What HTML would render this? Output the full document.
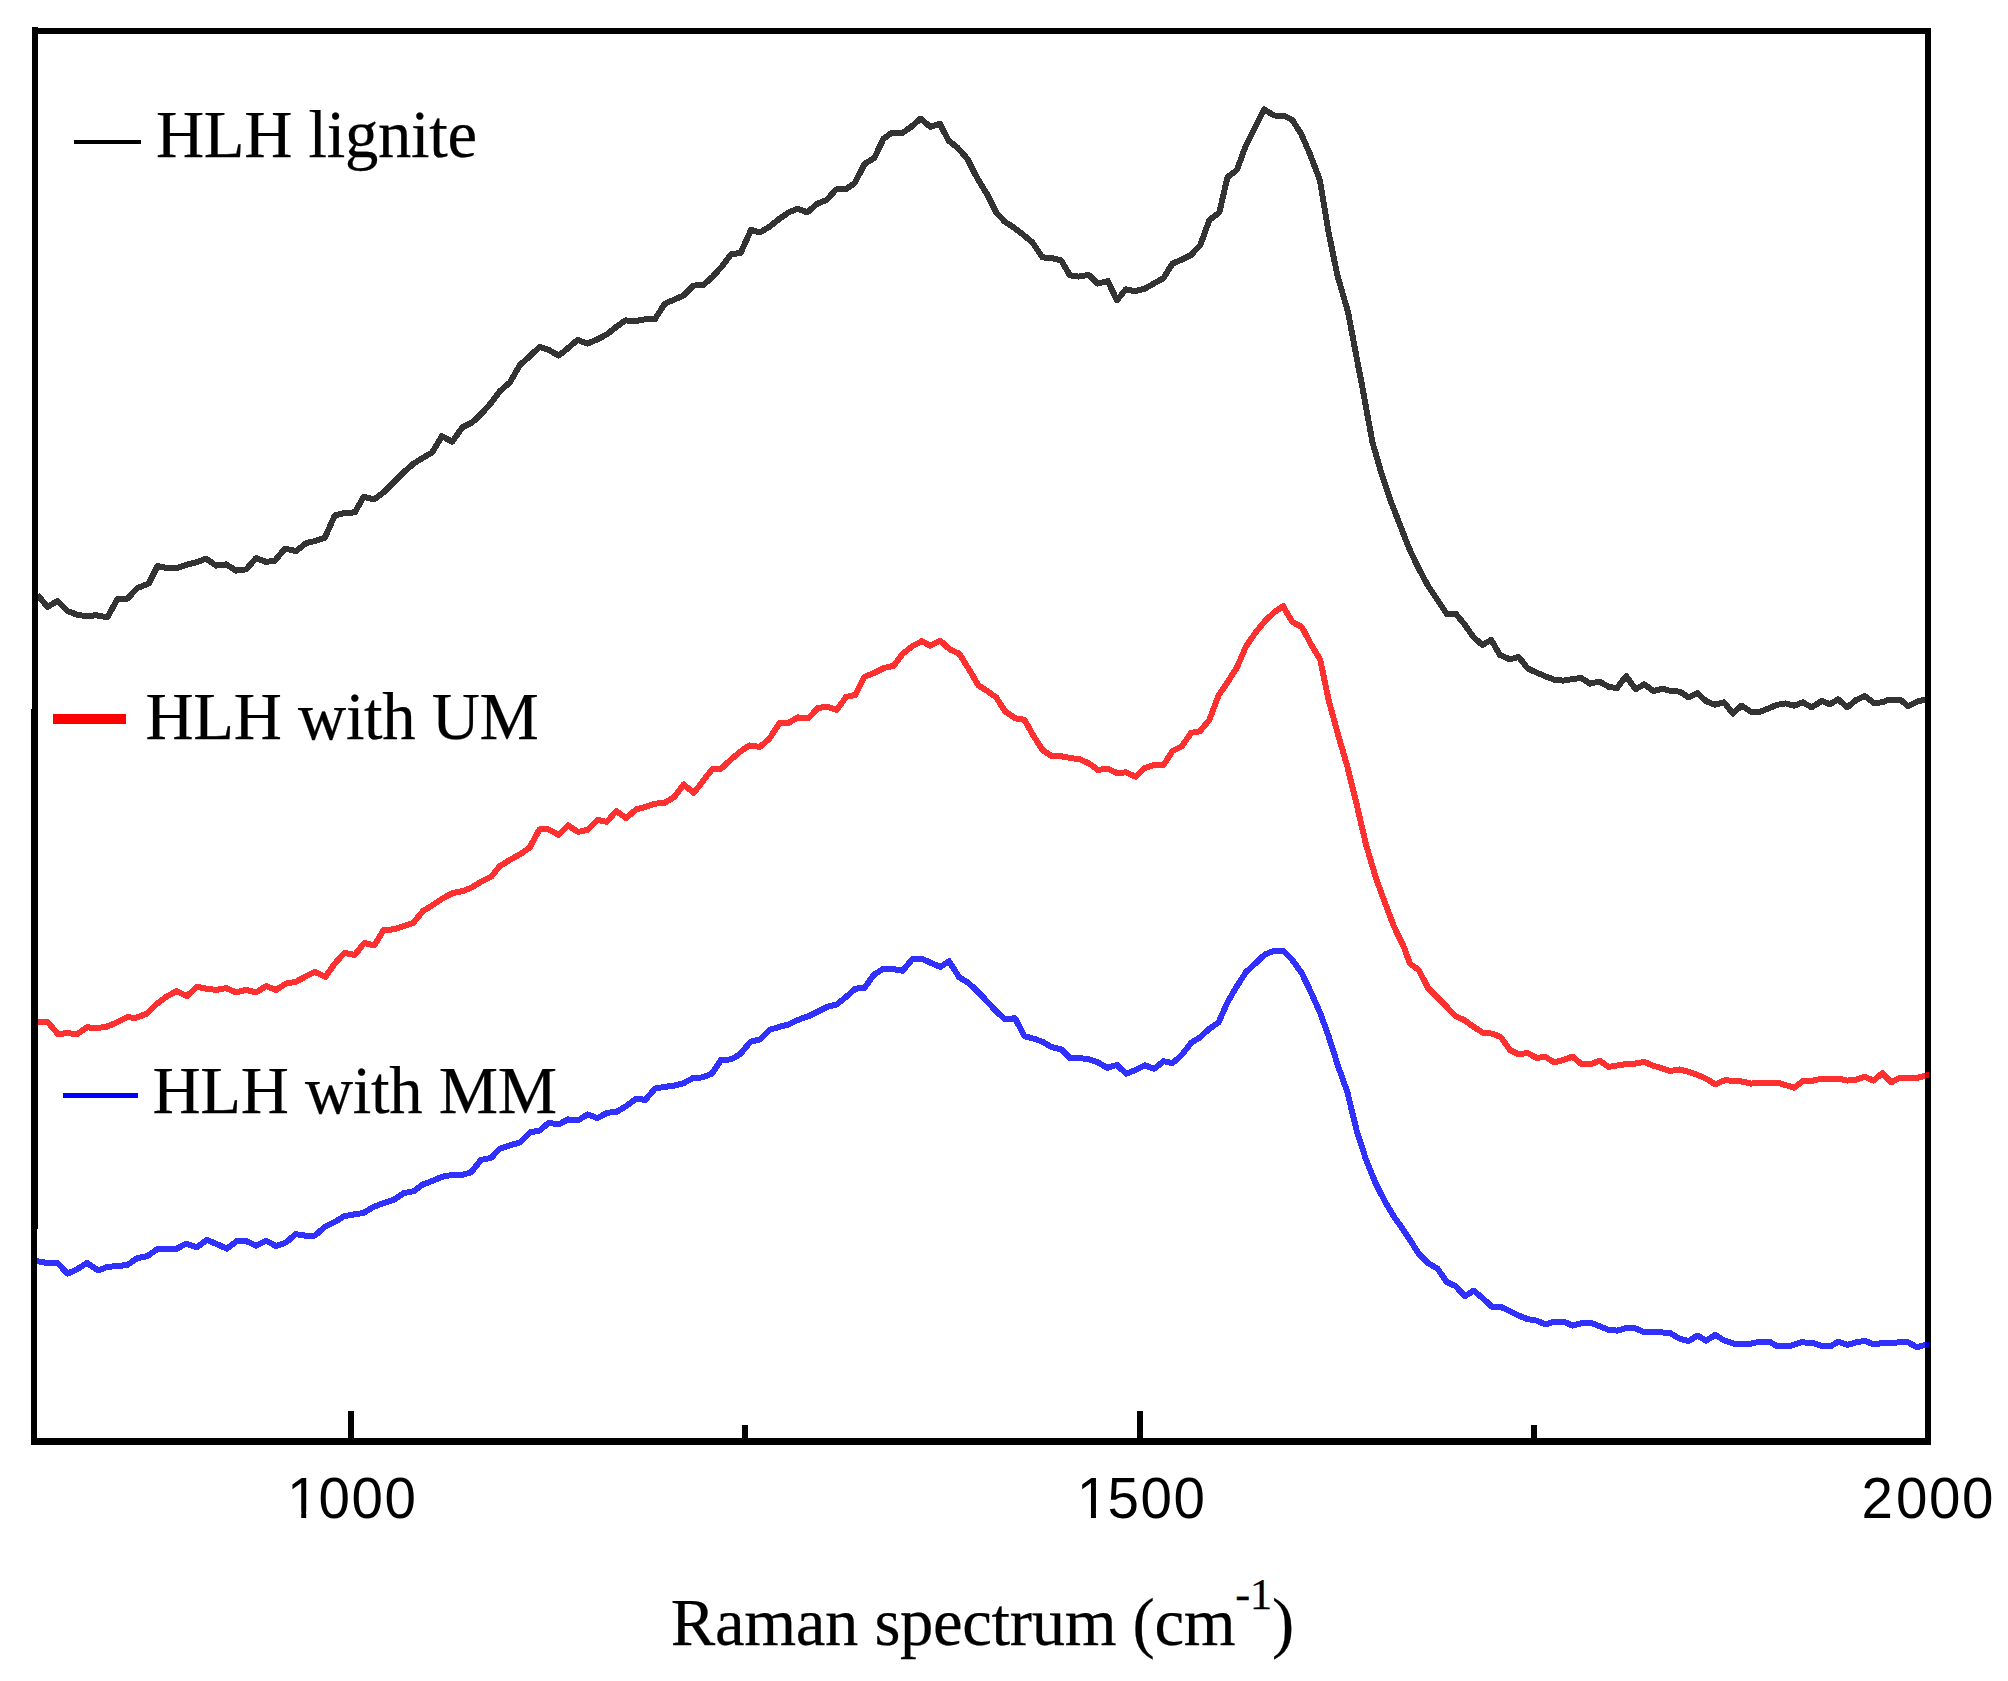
<!DOCTYPE html>
<html lang="en"><head><meta charset="utf-8"><title>Raman spectrum</title>
<style>html,body{margin:0;padding:0;background:#fff}body{width:2008px;height:1681px;overflow:hidden}svg{display:block}.tk{font-family:"Liberation Sans",Arial,sans-serif;font-size:58px;letter-spacing:1.6px;fill:#000}.sr{font-family:"Liberation Serif","Times New Roman",serif;font-size:66.7px;letter-spacing:-0.3px;fill:#000;stroke:#000;stroke-width:0.25px}</style></head><body>
<svg width="2008" height="1681" viewBox="0 0 2008 1681">
<rect x="0" y="0" width="2008" height="1681" fill="#fff"/>
<defs><clipPath id="c"><rect x="35" y="31" width="1894" height="1410"/></clipPath></defs>
<g fill="#000">
<rect x="32" y="28" width="1899" height="6"/>
<rect x="31" y="1438" width="1900" height="7"/>
<rect x="1925" y="28" width="6" height="1417"/>
<rect x="348" y="1411" width="6" height="28"/>
<rect x="1137" y="1411" width="6" height="28"/>
<rect x="742" y="1425" width="6" height="14"/>
<rect x="1531" y="1425" width="6" height="14"/>
</g>
<g clip-path="url(#c)" shape-rendering="crispEdges" fill="none" stroke-linejoin="round" stroke-linecap="butt" stroke-width="6">
<polyline stroke="#000" stroke-opacity="0.8" points="37.5,594.9 47.5,606.8 57.5,601.1 67.5,611.1 77.5,614.8 86.2,616.1 96.2,615.3 107.4,617.3 117.4,599.1 127.4,598.6 137.4,588.1 148.7,583.6 157.4,566.1 166.2,567.9 176.2,568.1 186.2,564.9 196.2,562.4 206.1,558.6 216.1,565.6 226.1,564.4 236.1,570.6 246.1,569.4 256.1,558.1 266.1,561.9 274.9,560.6 284.9,548.6 296.1,551.1 306.1,543.1 314.8,541.1 324.8,537.9 334.8,515.4 344.8,512.9 354.8,512.4 363.6,496.9 374.1,499.4 383.6,492.4 393.6,482.4 403.5,472.4 413.5,463.7 423.5,457.4 432.3,452.4 441.8,436.2 452.3,441.7 462.3,427.4 472.3,422.4 482.3,412.9 491.5,402.4 500,391.1 510,382.3 520,364.8 528.7,357.4 539.5,346.9 548.7,349.9 558.7,355.6 567.5,348.6 577.5,339.9 587.4,343.6 597.4,339.4 607.4,334.1 616.2,326.9 625.4,320.4 634.9,321.1 644.9,319.4 654.9,319.1 664.9,303.6 674.9,299.4 683.6,295.4 693.6,285.6 703.6,284.9 712.4,276.9 721.1,267.4 731.1,254.4 740.6,252.9 751.1,229.9 759.9,232.4 768.6,227.4 778.6,219.4 788.6,212.4 797.8,208.7 807.3,212.4 817.3,203.7 826.8,199.9 836.1,189.4 846.1,189.2 854.8,182.9 864.8,163.7 874.3,158 883.5,138.7 892.3,132.5 902.3,133 911,127 920.5,118.7 930.5,127 939.8,123.7 948.5,140.5 957.3,147.5 967.3,158.7 977.5,178.7 987.5,194.9 996.2,212.4 1005,221.9 1013.7,227.4 1022.5,234.2 1032.5,242.4 1042.5,257.4 1051.2,257.9 1061.2,260.4 1069.9,275.4 1078.7,276.6 1088.7,274.9 1097.4,283.6 1107.9,281.1 1116.9,300.4 1125.7,289.4 1134.9,291.1 1144.9,288.6 1153.7,283.6 1163.6,278.1 1172.4,263.6 1182.4,259.4 1191.1,254.9 1200.4,244.9 1209.4,219.9 1219.4,212.4 1227.4,177.4 1236.9,169.9 1245.6,146.2 1254.9,127.5 1264.1,109.5 1274.3,115.5 1283.6,115.7 1292.3,120 1301.1,133.7 1309.8,153.7 1319.8,179.9 1328.6,232.4 1337.3,274.9 1348.1,312.4 1357.3,361.1 1361,379.8 1372.5,442.5 1381.2,472.5 1391.2,502.4 1400,524.9 1408.7,547.4 1417.5,566.2 1427.5,584.9 1437.5,599.9 1446.9,614.1 1455.7,613.6 1464.9,624.9 1473.7,637.4 1482.4,644.9 1491.2,639.9 1499.9,654.9 1509.9,659.4 1518.7,656.9 1527.9,668.6 1537.4,672.9 1546.1,676.6 1554.9,679.9 1563.6,680.6 1572.4,679.1 1581.1,677.9 1589.9,683.6 1599.4,681.6 1608.6,686.8 1616.9,688.1 1626.1,676.1 1635.6,689.3 1644.1,684.3 1653.6,691.1 1662.3,688.6 1671.1,691.1 1679.8,691.6 1688.6,697.3 1697.3,693.1 1706.1,701.1 1714.8,704.8 1724.1,702.3 1732.8,713.6 1741.5,705.6 1751,711.8 1759.8,711.8 1768,708.7 1776.7,704.9 1785.5,703.4 1794.2,705.6 1803,702.4 1811.7,707.4 1821.7,700.9 1829.8,704.3 1838,699.3 1847.3,707.4 1856.1,700 1864.8,696.2 1874.2,703.1 1882.9,702.2 1887.9,700 1900.4,699.7 1907.9,706.2 1917.9,701.2 1925.2,699.7 1928.9,699.5"/>
<polyline stroke="#f00" stroke-opacity="0.81" points="38,1021.8 47.5,1021.8 58,1034.1 67.5,1033.1 77,1034.3 87,1027.3 96.2,1028.1 106.2,1026.8 116.2,1022.8 126.9,1017.3 136.2,1017.8 146.9,1013.6 156.2,1004.3 166.2,996.9 176.2,991.1 186.9,996.1 196.9,986.9 206.2,988.6 216.2,989.9 226.1,988.1 236.1,992.4 246.1,989.9 256.1,992.4 266.1,986.1 276.1,989.9 286.1,983.6 295.6,981.9 304.9,976.9 314.9,971.9 325.3,976.9 334.8,963.6 344.3,952.9 354.8,954.9 364.3,942.9 374.3,945.4 383.6,929.9 393.6,929.4 403.6,926.1 413.1,923.1 423,911.1 433,904.9 442.3,898.7 452.3,893.2 462.3,891.2 471,887.9 481,881.9 491,876.9 499.8,866.2 510,859.8 520,854.3 529.5,847.8 539.5,829.4 548.7,829.4 558.7,834.9 568,825.4 578,831.9 587.5,829.9 597.5,819.9 606.9,821.9 616.2,811.1 626.2,818.1 636.2,809.4 645.4,806.9 654.9,803.6 664.4,803.1 674.4,796.9 683.7,784.4 693.7,792.9 702.4,781.9 711.9,769.4 721.1,768.6 731.1,759.4 739.9,751.9 749.4,745.4 759.9,746.9 769.4,738.7 779.4,723.2 788.6,722.9 797.9,717.4 808.6,718.2 817.8,707.9 827.3,706.9 836.8,709.9 846.1,696.9 855.3,694.9 864.3,676.9 874.3,672.9 884.3,667.9 893.6,665.7 902.8,653.7 912.3,646.2 921.8,641.2 930.3,645.7 940.3,640.7 949.8,649.4 959.3,653.7 969.3,669.9 978.5,685.4 987.5,691.2 996.2,697.4 1005,711.2 1015,718.2 1024.5,719.9 1033.7,736.2 1042.5,749.9 1051.2,755.7 1061.2,756.2 1070,757.9 1080,759.4 1088.7,763.2 1097.9,769.9 1107.4,768.7 1116.9,772.9 1126.2,772.4 1135.7,776.7 1144.9,767.9 1154.2,764.9 1163.7,764.9 1172.4,751.2 1181.9,746.2 1191.1,732.9 1199.9,731.2 1209.4,719.9 1218.6,695.4 1227.4,682.4 1236.9,667.5 1246.1,646.2 1255.6,632.5 1264.9,621.2 1274.4,612 1283.1,606.2 1292.3,622 1301.8,627 1311.1,644.5 1320.3,660 1328.6,699.9 1338.1,734.9 1347.3,766.2 1356.8,804.9 1366.1,844.9 1376.1,878.6 1384.8,902.3 1394.3,927.3 1403.5,946.1 1410,963.7 1418.7,969.9 1428,987.9 1437.5,997.4 1446.7,1006.9 1455.5,1016.1 1465,1020.4 1473.7,1026.9 1483.2,1032.9 1492,1033.6 1500.7,1036.9 1509.9,1049.9 1518.7,1054.4 1527.4,1052.9 1536.7,1057.9 1545.4,1056.9 1554.4,1062.4 1563.7,1059.9 1572.4,1056.6 1581.7,1064.4 1591.2,1064.1 1599.4,1060.6 1608.6,1066.9 1617.4,1065.4 1626.1,1064.1 1634.9,1063.6 1644.4,1061.9 1652.4,1065.4 1661.1,1068.1 1669.9,1071.1 1679.4,1069.4 1688.6,1071.9 1697.4,1074.9 1706.1,1078.6 1715.3,1084.4 1724.3,1080.4 1733.6,1080.6 1742.3,1081.6 1751.1,1083.6 1759.8,1082.9 1769.3,1083.1 1778.6,1082.9 1794.2,1087.7 1803,1080.9 1813,1080.6 1821.7,1078.7 1829.8,1079.3 1838,1078.5 1847.3,1080.6 1856.1,1079.7 1864.8,1076.8 1873.6,1080.6 1882.3,1073.1 1891.1,1082.4 1899.2,1078.1 1916.7,1078.1 1925.4,1075.6 1928.9,1075.2"/>
<polyline stroke="#00f" stroke-opacity="0.81" points="37,1261.1 47.5,1263.1 57.5,1262.9 67.5,1273.6 77,1269.4 87,1262.9 98,1270.4 107.5,1266.9 117.5,1266.1 127.4,1264.9 137.4,1258.1 147.4,1256.1 157.4,1249.1 167.4,1249.1 176.9,1248.6 186.2,1243.6 196.9,1247.4 206.9,1239.9 217.4,1244.4 226.9,1248.6 236.9,1241.1 246.1,1241.1 256.1,1245.6 266.1,1240.6 276.1,1246.1 286.1,1242.4 295.6,1234.1 304.9,1235.6 314.9,1235.6 324.8,1226.9 334.8,1221.9 344.3,1216.1 354.3,1214.4 363.6,1212.9 373.6,1206.9 383.6,1203.1 393.6,1199.9 403.6,1193.2 413.6,1191.2 423,1184.4 433,1180.7 442.3,1176.7 452.3,1174.9 461.8,1174.9 471,1172.4 481,1159.9 491,1157.9 499.8,1148.7 510,1145.4 520,1142.4 530,1132.4 539.5,1130.6 548.7,1122.9 558.7,1124.4 568,1119.4 578,1120.4 587.5,1114.4 597.5,1118.1 606.9,1112.9 616.9,1111.6 626.2,1106.1 636.2,1098.6 645.4,1099.9 654.9,1088.6 664.4,1086.9 674.4,1085.6 683.7,1083.1 692.9,1078.1 702.4,1077.4 711.9,1073.6 721.1,1059.9 731.1,1059.4 739.9,1054.4 750.6,1041.7 759.9,1039.4 769.4,1029.9 779.4,1026.9 788.6,1024.4 797.9,1019.9 808.6,1016.2 817.8,1011.7 827.3,1006.9 836.8,1004.4 846.1,996.9 855.3,988.7 864.3,987.9 874.3,974.4 883.6,968.7 893.6,969.2 902.8,970.7 912.3,959.2 921.8,958.7 931,962.9 940.3,966.9 949,961.2 959.3,977.4 968.5,982.9 978.5,992.4 987.5,1001.9 996.2,1011.2 1005,1019.4 1015,1018.2 1024.5,1036.2 1033.7,1038.7 1042.5,1041.7 1051.2,1046.9 1061.2,1049.4 1070,1058.2 1080,1058.2 1088.7,1059.2 1097.9,1062.4 1107.4,1067.9 1116.9,1064.9 1126.2,1073.7 1135.7,1069.9 1144.9,1065.4 1154.2,1068.7 1163.7,1061.2 1172.4,1063.2 1181.9,1054.9 1191.1,1042.9 1199.9,1037.4 1209.4,1028.7 1218.6,1022.4 1227.4,1002.4 1236.9,986.2 1246.1,972 1255.6,963.2 1264.9,954.5 1274.4,950.7 1283.1,950.7 1292.3,960 1301.8,973.2 1311.1,992.5 1320.3,1013.2 1328.6,1036.2 1338.1,1066.2 1347.3,1091.9 1356.8,1131.1 1366.1,1159.9 1376.1,1184.4 1384.8,1201.1 1394.3,1217.3 1400,1224.9 1410,1239.9 1418.7,1253.7 1428,1263.1 1437.5,1268.6 1446.7,1281.9 1455.5,1286.1 1465,1296.1 1473.7,1290.6 1483.2,1298.6 1492,1306.9 1500.7,1306.9 1509.9,1311.1 1518.7,1315.6 1527.4,1319.1 1536.7,1320.6 1545.4,1324.4 1554.4,1321.6 1563.7,1321.6 1572.4,1325.6 1581.7,1323.1 1591.2,1322.9 1599.4,1326.1 1608.6,1329.9 1617.4,1330.6 1626.1,1328.1 1634.9,1328.1 1644.4,1332.4 1652.4,1332.4 1661.1,1332.4 1669.9,1332.9 1679.4,1338.6 1688.6,1341.1 1697.4,1335.6 1706.1,1340.6 1715.3,1334.9 1724.3,1340.6 1733.6,1343.6 1742.3,1344.4 1751.1,1343.6 1759.8,1341.6 1769.3,1341.6 1776.7,1345.9 1789.9,1345.9 1801.1,1342.4 1811.7,1342.7 1821.7,1345.9 1831.1,1345.9 1838,1341.8 1847.3,1344.9 1856.1,1342.4 1864.8,1340.9 1873.6,1344.3 1882.9,1343.1 1895.4,1342.7 1899.2,1342.2 1907.9,1342.2 1916.7,1347.2 1925.4,1344.9 1928.9,1344.7"/>
</g>
<g fill="#000"><rect x="32" y="27" width="6" height="682"/><rect x="31" y="709" width="7" height="520"/><rect x="31" y="1229" width="6" height="216"/></g>
<rect x="74" y="140" width="67" height="4" fill="#000"/>
<rect x="53" y="714" width="73" height="10" fill="#f00"/>
<rect x="63" y="1093" width="75" height="5" fill="#00f"/>
<text class="sr" x="156" y="156.8">HLH lignite</text>
<text class="sr" x="145.5" y="739.3">HLH with UM</text>
<text class="sr" x="152.4" y="1113.1">HLH with MM</text>
<text class="tk" transform="translate(350.8,1518) scale(0.975,1)" text-anchor="middle" dx="1.6 -1.6 0 0">1000</text>
<text class="tk" transform="translate(1139.3,1518) scale(0.975,1)" text-anchor="middle" dx="2.4 -2.4 0 0">1500</text>
<text class="tk" transform="translate(1928.3,1518) scale(0.975,1)" text-anchor="middle" dx="0 1.4 0 0">2000</text>
<rect x="290" y="1511.5" width="11.23" height="8" fill="#fff"/>
<rect x="306.21" y="1511.5" width="10.79" height="8" fill="#fff"/>
<rect x="1080" y="1511.5" width="10.96" height="8" fill="#fff"/>
<rect x="1095.95" y="1511.5" width="11.05" height="8" fill="#fff"/>
<text class="sr" x="670.8" y="1645" style="letter-spacing:-0.33px">Raman spectrum (cm<tspan dy="-36" style="font-size:45px">-1</tspan><tspan dy="36">)</tspan></text>
</svg></body></html>
